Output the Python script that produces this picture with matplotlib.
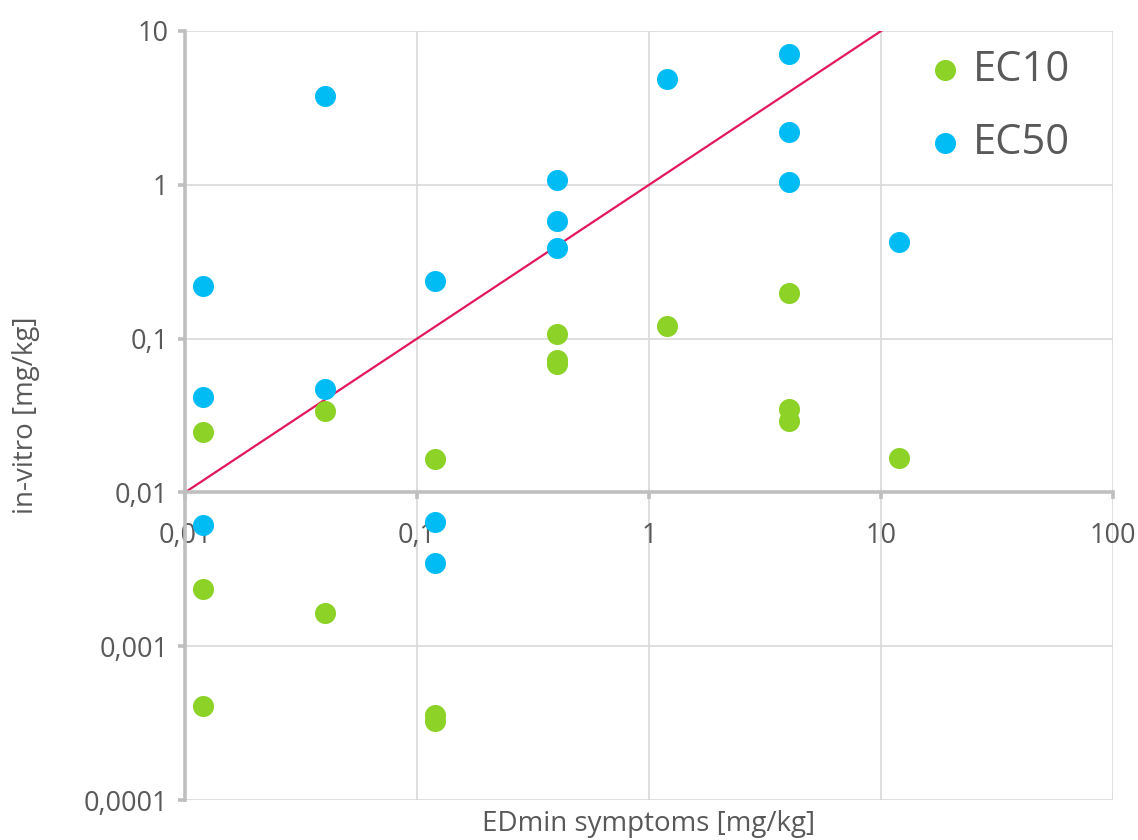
import numpy as np
import matplotlib
matplotlib.use('Agg')
import matplotlib.pyplot as plt
from matplotlib.ticker import FixedLocator, FuncFormatter, NullLocator

plt.rcParams['font.family'] = ['Open Sans', 'DejaVu Sans']

# EDmin symptoms [mg/kg] vs in-vitro [mg/kg]
ec50_x = [0.012, 0.012, 0.012, 0.04, 0.04, 0.12, 0.12, 0.12,
          0.4, 0.4, 0.4, 1.2, 4, 4, 4, 12]
ec50_y = [0.0061, 0.22, 0.042, 3.8, 0.047, 0.236, 0.0064, 0.0035,
          1.07, 0.58, 0.39, 4.85, 7.05, 2.22, 1.05, 0.425]

ec10_x = [0.012, 0.012, 0.012, 0.04, 0.04, 0.12, 0.12, 0.12,
          0.4, 0.4, 0.4, 1.2, 4, 4, 4, 12]
ec10_y = [0.0247, 0.00235, 0.00041, 0.0338, 0.00164, 0.0165, 0.000357, 0.000327,
          0.107, 0.0727, 0.0684, 0.121, 0.198, 0.0348, 0.0291, 0.0167]

line_x = [0.01, 100]
line_y = [0.01, 100]

x_ticks = [0.01, 0.1, 1, 10, 100]
y_ticks = [0.0001, 0.001, 0.01, 0.1, 1, 10]

GREEN = '#8CD227'
BLUE = '#00BCF5'
RED = '#E3185C'
AXIS = '#BFBFBF'
GRID = '#D9D9D9'
TEXT = '#595959'


def fmt(v, _):
    s = f'{v:.4f}'.rstrip('0').rstrip('.') if v < 1 else f'{v:g}'
    return s.replace('.', ',')


fig = plt.figure(figsize=(11.38, 8.4), dpi=100)
ax = fig.add_axes([0.1626, 0.0476, 0.8155, 0.9155])

ax.set_xscale('log')
ax.set_yscale('log')
ax.set_xlim(0.01, 100)
ax.set_ylim(0.0001, 10)

ax.scatter(ec10_x, ec10_y, s=230, color=GREEN, linewidths=0, label='EC10', zorder=3)
ax.scatter(ec50_x, ec50_y, s=230, color=BLUE, linewidths=0, label='EC50', zorder=3)
ax.plot(line_x, line_y, color=RED, linewidth=1.6, zorder=2)

ax.xaxis.set_major_locator(FixedLocator(x_ticks))
ax.yaxis.set_major_locator(FixedLocator(y_ticks))
ax.xaxis.set_minor_locator(NullLocator())
ax.yaxis.set_minor_locator(NullLocator())
ax.xaxis.set_major_formatter(FuncFormatter(fmt))
ax.yaxis.set_major_formatter(FuncFormatter(fmt))

ax.grid(True, color=GRID, linewidth=1.2, zorder=0)
ax.set_axisbelow(True)

ax.spines['top'].set_visible(False)
ax.spines['right'].set_visible(False)
ax.spines['bottom'].set_position(('data', 0.01))
for sp in ('bottom', 'left'):
    ax.spines[sp].set_color(AXIS)
    ax.spines[sp].set_linewidth(2.6)
    ax.spines[sp].set_zorder(2.5)

ax.tick_params(axis='both', which='major', direction='out', length=5, width=2.6,
               color=AXIS, labelcolor=TEXT, labelsize=19.5)
ax.tick_params(axis='x', pad=16)
ax.tick_params(axis='y', pad=7)

ax.set_xlabel('EDmin symptoms [mg/kg]', fontsize=20, color=TEXT, va='bottom')
ax.xaxis.set_label_coords(0.5, -0.049)
ax.set_ylabel('in-vitro [mg/kg]', fontsize=20, color=TEXT)
ax.yaxis.set_label_coords(-0.156, 0.5)

leg = ax.legend(loc='upper left', bbox_to_anchor=(0.792, 0.9766), fontsize=30,
                frameon=False, borderaxespad=0, borderpad=0,
                handletextpad=0.07, handlelength=1.2, labelspacing=0.75,
                markerscale=1.0, labelcolor=TEXT)

fig.savefig('out.png', dpi=100)
